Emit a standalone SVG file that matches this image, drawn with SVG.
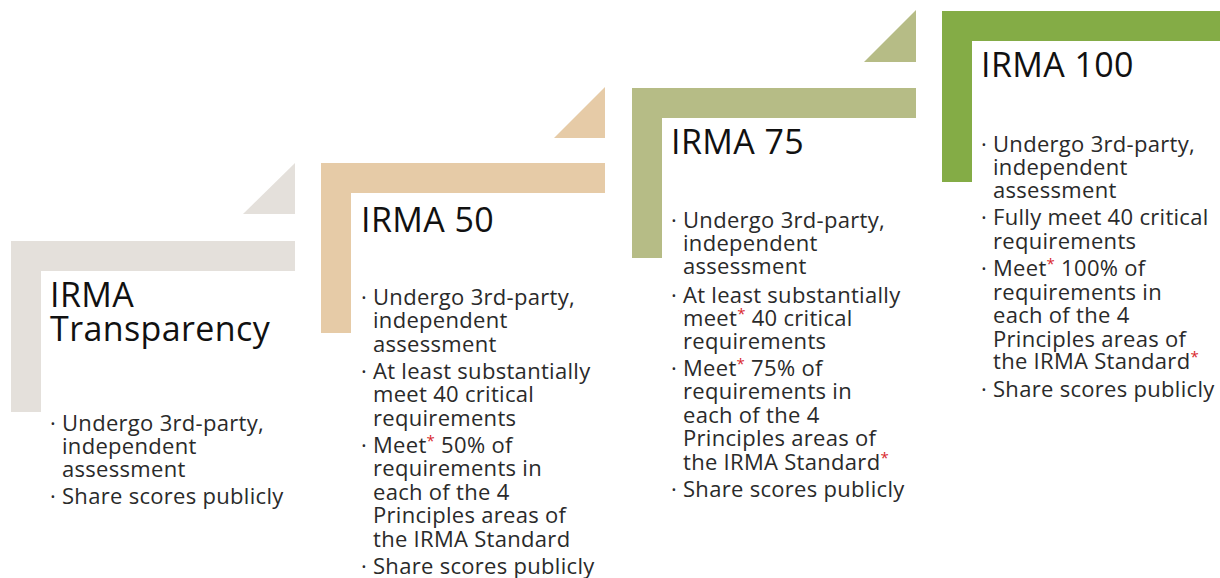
<svg xmlns="http://www.w3.org/2000/svg" width="1220" height="578" viewBox="0 0 1220 578">
  <style>
    .title { font-family: "Open Sans", "Liberation Sans", sans-serif; font-size: 34px; letter-spacing: 0.4px; fill: #111111; }
    .body { font-family: "Open Sans", "Liberation Sans", sans-serif; font-size: 22px; letter-spacing: 0.3px; fill: #2a2a2a; }
    .ast { fill: #d9262c; font-size: 15px; }
    .s1 { fill: #e4e0db; }
    .s2 { fill: #e6cba7; }
    .s3 { fill: #b6bc86; }
    .s4 { fill: #84ac46; }
  </style>

  <!-- Step 1: IRMA Transparency -->
  <g id="step-transparency">
    <polygon class="s1" points="243,214 295,214 295,163"/>
    <path class="s1" d="M11,241 H295 V271 H41 V412 H11 Z"/>
    <text class="title"><tspan x="50" y="307">IRMA</tspan><tspan x="50" y="341">Transparency</tspan></text>
    <text class="body">
      <tspan x="50" y="431">· </tspan><tspan x="62" y="431">Undergo 3rd-party,</tspan>
      <tspan x="62" y="454">independent</tspan>
      <tspan x="62" y="477">assessment</tspan>
      <tspan x="50" y="504">· </tspan><tspan x="62" y="504">Share scores publicly</tspan>
    </text>
  </g>

  <!-- Step 2: IRMA 50 -->
  <g id="step-irma50">
    <polygon class="s2" points="554,138 605,138 605,87"/>
    <path class="s2" d="M321,163 H605 V193 H351 V333 H321 Z"/>
    <text class="title" x="361" y="232">IRMA 50</text>
    <text class="body">
      <tspan x="361" y="305">· </tspan><tspan x="373" y="305">Undergo 3rd-party,</tspan>
      <tspan x="373" y="328">independent</tspan>
      <tspan x="373" y="352">assessment</tspan>
      <tspan x="361" y="379">· </tspan><tspan x="373" y="379">At least substantially</tspan>
      <tspan x="373" y="402">meet 40 critical</tspan>
      <tspan x="373" y="426">requirements</tspan>
      <tspan x="361" y="453">· </tspan><tspan x="373" y="453">Meet</tspan><tspan class="ast" dy="-7">*</tspan><tspan dy="7"> 50% of</tspan>
      <tspan x="373" y="476">requirements in</tspan>
      <tspan x="373" y="500">each of the 4</tspan>
      <tspan x="373" y="523">Principles areas of</tspan>
      <tspan x="373" y="547">the IRMA Standard</tspan>
      <tspan x="361" y="574">· </tspan><tspan x="373" y="574">Share scores publicly</tspan>
    </text>
  </g>

  <!-- Step 3: IRMA 75 -->
  <g id="step-irma75">
    <polygon class="s3" points="864,62 916,62 916,10"/>
    <path class="s3" d="M632,88 H916 V118 H662 V258 H632 Z"/>
    <text class="title" x="671" y="154">IRMA 75</text>
    <text class="body">
      <tspan x="671" y="228">· </tspan><tspan x="683" y="228">Undergo 3rd-party,</tspan>
      <tspan x="683" y="251">independent</tspan>
      <tspan x="683" y="274">assessment</tspan>
      <tspan x="671" y="303">· </tspan><tspan x="683" y="303">At least substantially</tspan>
      <tspan x="683" y="326">meet</tspan><tspan class="ast" dy="-7">*</tspan><tspan dy="7"> 40 critical</tspan>
      <tspan x="683" y="349">requirements</tspan>
      <tspan x="671" y="376">· </tspan><tspan x="683" y="376">Meet</tspan><tspan class="ast" dy="-7">*</tspan><tspan dy="7"> 75% of</tspan>
      <tspan x="683" y="399">requirements in</tspan>
      <tspan x="683" y="423">each of the 4</tspan>
      <tspan x="683" y="446">Principles areas of</tspan>
      <tspan x="683" y="470">the IRMA Standard</tspan><tspan class="ast" dy="-7">*</tspan>
      <tspan x="671" y="497">· </tspan><tspan x="683" y="497">Share scores publicly</tspan>
    </text>
  </g>

  <!-- Step 4: IRMA 100 -->
  <g id="step-irma100">
    <path class="s4" d="M942,11 H1220 V41 H972 V182 H942 Z"/>
    <text class="title" x="981" y="77">IRMA 100</text>
    <text class="body">
      <tspan x="981" y="152">· </tspan><tspan x="993" y="152">Undergo 3rd-party,</tspan>
      <tspan x="993" y="175">independent</tspan>
      <tspan x="993" y="198">assessment</tspan>
      <tspan x="981" y="225">· </tspan><tspan x="993" y="225">Fully meet 40 critical</tspan>
      <tspan x="993" y="249">requirements</tspan>
      <tspan x="981" y="276">· </tspan><tspan x="993" y="276">Meet</tspan><tspan class="ast" dy="-7">*</tspan><tspan dy="7"> 100% of</tspan>
      <tspan x="993" y="300">requirements in</tspan>
      <tspan x="993" y="323">each of the 4</tspan>
      <tspan x="993" y="347">Principles areas of</tspan>
      <tspan x="993" y="369">the IRMA Standard</tspan><tspan class="ast" dy="-7">*</tspan>
      <tspan x="981" y="397">· </tspan><tspan x="993" y="397">Share scores publicly</tspan>
    </text>
  </g>
</svg>
